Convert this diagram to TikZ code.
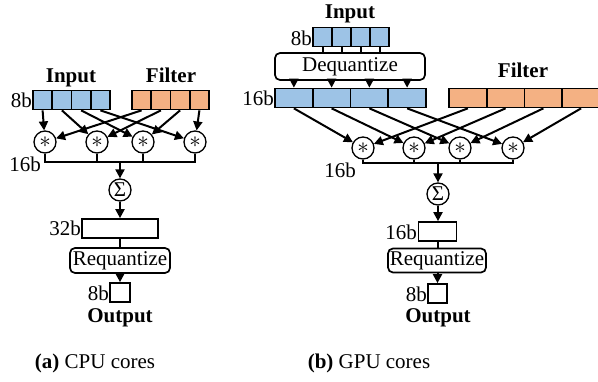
\documentclass[tikz,border=0pt]{standalone}
\usepackage{fontspec}
\setmainfont{Liberation Serif}
\usetikzlibrary{arrows.meta}
\definecolor{cellblue}{RGB}{157,195,230}
\definecolor{cellorange}{RGB}{244,177,131}
\newcommand{\mulsym}{\scalebox{2.3}{$\ast$}}
\newcommand{\sumsym}{\raisebox{-1pt}{\fontsize{21}{21}\selectfont Σ}}
\tikzset{
  txt/.style={font=\fontsize{21}{24}\selectfont, inner sep=0pt},
  btxt/.style={font=\fontsize{21}{24}\selectfont\bfseries, inner sep=0pt},
  cellb/.style={draw, fill=cellblue, line width=1.7pt, minimum width=#1, minimum height=19pt, inner sep=0pt},
  cello/.style={draw, fill=cellorange, line width=1.7pt, minimum width=#1, minimum height=19pt, inner sep=0pt},
  wbox/.style={draw, fill=white, line width=1.7pt, inner sep=0pt},
  rbox/.style={draw, fill=white, line width=1.7pt, rounded corners=5pt, inner sep=0pt, font=\fontsize{21}{24}\selectfont},
  op/.style={circle, draw, fill=white, line width=1.3pt, minimum size=22pt, inner sep=0pt},
  wire/.style={line width=2pt},
  arr/.style={line width=2pt, -{Triangle[length=9pt,width=9pt]}},
}
\begin{document}
\begin{tikzpicture}[x=1pt,y=-1pt]
\useasboundingbox (0,0) rectangle (598,381);

% ================= (a) CPU cores =================
\node[btxt, anchor=base] (ain) at (71,82) {Input};
\node[btxt, anchor=base] (afl) at (171,82) {Filter};
\foreach \i/\x in {1/42.6,2/61.9,3/81.1,4/100.4}
  \node[cellb=19.25pt] (ai\i) at (\x,100) {};
\foreach \i/\x in {1/141.6,2/160.9,3/180.1,4/199.4}
  \node[cello=19.25pt] (af\i) at (\x,100) {};
\node[txt, anchor=base east] (a8b) at (32,107) {8b};
\foreach \i/\x in {1/45,2/97,3/143,4/195}
  \node[op] (am\i) at (\x,142) {\mulsym};
\foreach \i in {1,2,3,4} {
  \draw[arr] (ai\i.south) -- (am\i);
  \draw[arr] (af\i.south) -- (am\i);
}
\coordinate (abus) at (120,162);
\draw[wire] (am1.south) -- (am1.south |- abus) -- (am4.south |- abus) -- (am4.south);
\draw[wire] (am2.south) -- (am2.south |- abus);
\draw[wire] (am3.south) -- (am3.south |- abus);
\node[txt, anchor=base east] (a16b) at (41,171) {16b};
\node[op] (asum) at (120,190) {\sumsym};
\draw[arr] (abus) -- (asum);
\node[wbox, minimum width=76pt, minimum height=19pt] (aacc) at (120,228.5) {};
\draw[arr] (asum) -- (aacc);
\node[txt, anchor=base east] (a32b) at (81,235) {32b};
\node[rbox, minimum width=100pt, minimum height=25pt] (areq) at (120,260.5) {Requantize};
\draw[wire] (aacc) -- (areq);
\node[wbox, minimum width=20pt, minimum height=19pt] (aout) at (120,292.5) {};
\draw[arr] (areq) -- (aout);
\node[txt, anchor=base east] (a8bo) at (109,300) {8b};
\node[btxt, anchor=base] (aoutl) at (120,322) {Output};
\node[txt, anchor=base] (acap) at (95,368) {\textbf{(a)} CPU cores};

% ================= (b) GPU cores =================
\node[btxt, anchor=base] (bin) at (350,18) {Input};
\foreach \i/\x in {1/322.5,2/341.5,3/360.5,4/379.5}
  \node[cellb=19pt] (bq\i) at (\x,37) {};
\node[txt, anchor=base east] (b8b) at (312,45) {8b};
\node[rbox, minimum width=150pt, minimum height=27pt] (bdq) at (350,66.5) {Dequantize};
\foreach \i in {1,2,3,4}
  \draw[wire] (bq\i.south) -- (bq\i.south |- bdq.north);
\foreach \i/\x in {1/293.9,2/331.6,3/369.4,4/407.1}
  \node[cellb=37.75pt] (bi\i) at (\x,98) {};
\foreach \i in {1,2,3,4}
  \draw[arr] (bi\i.north |- bdq.south) -- (bi\i.north);
\node[txt, anchor=base east] (b16b) at (274,105) {16b};
\node[btxt, anchor=base] (bfl) at (523,77) {Filter};
\foreach \i/\x in {1/467.9,2/505.6,3/543.4,4/581.1}
  \node[cello=37.75pt] (bf\i) at (\x,98) {};
\foreach \i/\x in {1/363,2/414,3/460,4/513}
  \node[op] (bm\i) at (\x,148) {\mulsym};
\foreach \i in {1,2,3,4} {
  \draw[arr] (bi\i.south) -- (bm\i);
  \draw[arr] (bf\i.south) -- (bm\i);
}
\coordinate (bbus) at (438,163);
\draw[wire] (bm1.south) -- (bm1.south |- bbus) -- (bm4.south |- bbus) -- (bm4.south);
\draw[wire] (bm2.south) -- (bm2.south |- bbus);
\draw[wire] (bm3.south) -- (bm3.south |- bbus);
\node[txt, anchor=base east] (b16bb) at (356,177) {16b};
\node[op] (bsum) at (438,194) {\sumsym};
\draw[arr] (bbus) -- (bsum);
\node[wbox, minimum width=38pt, minimum height=19pt] (bacc) at (437.5,231.5) {};
\draw[arr] (bsum) -- (bsum |- bacc.north);
\node[txt, anchor=base east] (b16bo) at (417,239) {16b};
\node[rbox, minimum width=98pt, minimum height=24pt] (breq) at (437,260.5) {Requantize};
\draw[wire] (bacc) -- (bacc |- breq.north);
\node[wbox, minimum width=19pt, minimum height=19pt] (bout) at (437.5,293.5) {};
\draw[arr] (bout |- breq.south) -- (bout);
\node[txt, anchor=base east] (b8bo) at (427,301) {8b};
\node[btxt, anchor=base] (boutl) at (438,322) {Output};
\node[txt, anchor=base] (bcap) at (369,368) {\textbf{(b)} GPU cores};
\end{tikzpicture}
\end{document}
